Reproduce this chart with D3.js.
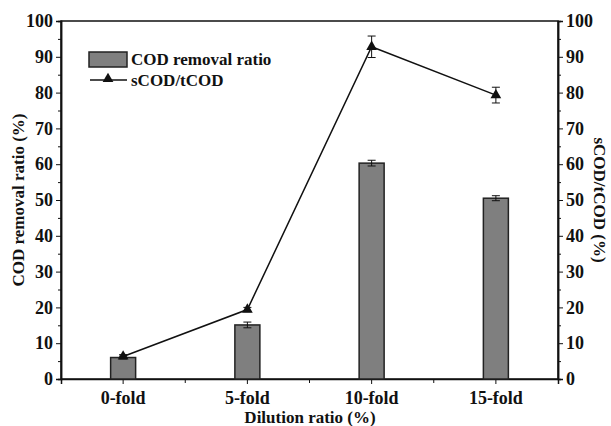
<!DOCTYPE html>
<html><head><meta charset="utf-8">
<script src="https://cdn.jsdelivr.net/npm/d3@7"></script>
<style>body{margin:0;background:#fff}svg{display:block}text{font-family:"Liberation Serif","Times New Roman",serif;font-weight:bold;fill:#111}</style>
</head><body><svg id="c" width="611" height="426"></svg>
<script>
const categories = ["0-fold","5-fold","10-fold","15-fold"];
const removalRatio = [6.0, 15.1, 60.3, 50.5];
const removalErr = [0.4, 0.8, 0.8, 0.7];
const sRatio = [6.3, 19.4, 92.8, 79.3];
const sErr = [0.5, 0.6, 3.0, 2.2];
const yTicks = [0,10,20,30,40,50,60,70,80,90,100];
const seriesNames = ["COD removal ratio","sCOD/tCOD"];

const svg = d3.select("#c");
const L=61, R=558, T=21, B=379;
const x = d3.scaleBand().domain(categories).range([L,R]);
const y = d3.scaleLinear().domain([0,100]).range([B,T]);
const y2 = d3.scaleLinear().domain([0,100]).range([B,T]);
const ink="#111";

svg.append("rect").attr("x",L).attr("y",T).attr("width",R-L).attr("height",B-T).attr("fill","none").attr("stroke",ink).attr("stroke-width",1.5);

const minor = d3.range(5,100,10);
svg.append("g").attr("transform",`translate(${L},0)`)
  .call(d3.axisLeft(y).tickValues(yTicks).tickSize(5).tickPadding(3).tickFormat(d3.format("d")));
svg.append("g").attr("transform",`translate(${L},0)`).call(d3.axisLeft(y).tickValues(minor).tickSize(3).tickFormat(""));
svg.append("g").attr("transform",`translate(${R},0)`)
  .call(d3.axisRight(y2).tickValues(yTicks).tickSize(5).tickPadding(3).tickFormat(d3.format("d")));
svg.append("g").attr("transform",`translate(${R},0)`).call(d3.axisRight(y2).tickValues(minor).tickSize(3).tickFormat(""));
svg.append("g").attr("transform",`translate(0,${B})`)
  .call(d3.axisBottom(x).tickSize(5).tickPadding(7));
const bounds = categories.map(c=>x(c)).concat([R]);
svg.append("g").attr("transform",`translate(0,${B})`).selectAll("line").data(bounds.slice(1,-1)).join("line")
  .attr("x1",d=>d).attr("x2",d=>d).attr("y1",0).attr("y2",4).attr("stroke",ink).attr("stroke-width",1);

svg.selectAll(".domain").attr("stroke",ink).attr("stroke-width",1.5);
svg.selectAll(".tick line").attr("stroke",ink).attr("stroke-width",1);
svg.selectAll(".tick text").attr("font-size",18).attr("fill",ink).style("font-family",'"Liberation Serif",serif').style("font-weight","bold");

const bw = 25;
const cx = c=>x(c)+x.bandwidth()/2;
svg.append("g").selectAll("rect").data(categories).join("rect")
  .attr("x",c=>cx(c)-bw/2).attr("width",bw)
  .attr("y",(c,i)=>y(removalRatio[i])).attr("height",(c,i)=>B-y(removalRatio[i]))
  .attr("fill","#7f7f7f").attr("stroke","#222").attr("stroke-width",1.5);
const eb = svg.append("g").attr("stroke",ink).attr("stroke-width",1);
categories.forEach((c,i)=>{
  const xc=cx(c), lo=y(removalRatio[i]-removalErr[i]), hi=y(removalRatio[i]+removalErr[i]);
  eb.append("line").attr("x1",xc).attr("x2",xc).attr("y1",lo).attr("y2",hi);
  eb.append("line").attr("x1",xc-4).attr("x2",xc+4).attr("y1",lo).attr("y2",lo);
  eb.append("line").attr("x1",xc-4).attr("x2",xc+4).attr("y1",hi).attr("y2",hi);
});

const line = d3.line().x((d,i)=>cx(categories[i])).y(d=>y2(d));
svg.append("path").datum(sRatio).attr("d",line).attr("fill","none").attr("stroke",ink).attr("stroke-width",1.5);
const el = svg.append("g").attr("stroke",ink).attr("stroke-width",1);
categories.forEach((c,i)=>{
  const xc=cx(c), lo=y2(sRatio[i]-sErr[i]), hi=y2(sRatio[i]+sErr[i]);
  el.append("line").attr("x1",xc).attr("x2",xc).attr("y1",lo).attr("y2",hi);
  el.append("line").attr("x1",xc-4).attr("x2",xc+4).attr("y1",lo).attr("y2",lo);
  el.append("line").attr("x1",xc-4).attr("x2",xc+4).attr("y1",hi).attr("y2",hi);
});
const tri = d3.symbol().type(d3.symbolTriangle).size(50);
svg.append("g").selectAll("path").data(sRatio).join("path")
  .attr("transform",(d,i)=>`translate(${cx(categories[i])},${y2(d)})`)
  .attr("d",tri).attr("fill",ink);

const lg = svg.append("g");
lg.append("rect").attr("x",89).attr("y",52).attr("width",38).attr("height",15).attr("fill","#7f7f7f").attr("stroke","#222").attr("stroke-width",1.5);
lg.append("text").attr("x",131).attr("y",65).attr("font-size",17).text(seriesNames[0]);
lg.append("line").attr("x1",90).attr("x2",127).attr("y1",80).attr("y2",80).attr("stroke",ink).attr("stroke-width",1.5);
lg.append("path").attr("transform","translate(108,79)").attr("d",tri).attr("fill",ink);
lg.append("text").attr("x",131).attr("y",86).attr("font-size",17).text(seriesNames[1]);

svg.append("text").attr("transform",`translate(24,${(T+B)/2}) rotate(-90)`).attr("text-anchor","middle").attr("font-size",17).text("COD removal ratio (%)");
svg.append("text").attr("transform",`translate(594,${(T+B)/2}) rotate(90)`).attr("text-anchor","middle").attr("font-size",17).text("sCOD/tCOD (%)");
svg.append("text").attr("x",310).attr("y",423).attr("text-anchor","middle").attr("font-size",17).text("Dilution ratio (%)");
</script></body></html>
